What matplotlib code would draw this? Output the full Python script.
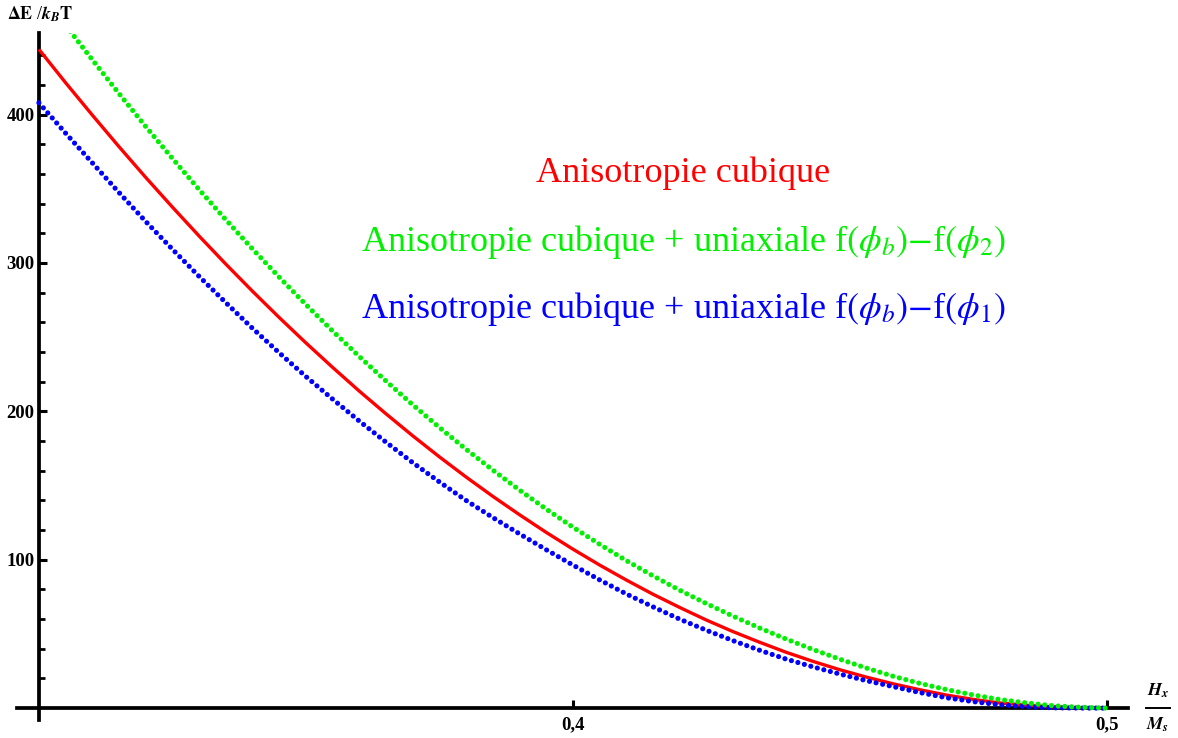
import matplotlib
matplotlib.use("Agg")
import matplotlib.pyplot as plt
from matplotlib.lines import Line2D

plt.rcParams['font.family'] = ['Liberation Serif', 'DejaVu Serif']
plt.rcParams['mathtext.fontset'] = 'stix'

# reduced field H_x / M_s
hx = [0.300, 0.305, 0.310, 0.315, 0.320, 0.325, 0.330, 0.335, 0.340, 0.345,
      0.350, 0.355, 0.360, 0.365, 0.370, 0.375, 0.380, 0.385, 0.390, 0.395,
      0.400, 0.405, 0.410, 0.415, 0.420, 0.425, 0.430, 0.435, 0.440, 0.445,
      0.450, 0.455, 0.460, 0.465, 0.470, 0.475, 0.480, 0.485, 0.490, 0.495,
      0.500]

# energy barrier dE / kB T
cubic = [444, 421.5, 399.7, 378.4, 357.7, 337.7, 318.2, 299.3, 281.0, 263.3,
         246.2, 229.7, 213.7, 198.4, 183.6, 169.4, 155.8, 142.8, 130.4, 118.5,
         107.2, 96.5, 86.4, 76.8, 67.9, 59.4, 51.6, 44.4, 37.6, 31.5,
         25.9, 20.9, 16.4, 12.4, 8.8, 5.9, 3.5, 1.9, 0.8, 0.3,
         0.0]
cubic_uni_phi2 = [484, 460.2, 437, 414.2, 392, 370.5, 349.5, 329.2, 309.5, 290.5,
                  272, 254.2, 237, 220.5, 204.5, 189.2, 174.5, 160.5, 147, 134.2,
                  122, 110.5, 99.5, 89.2, 79.5, 70.5, 62, 54, 46.5, 39.5,
                  33, 27, 21.5, 16.7, 12.5, 8.9, 5.8, 3.5, 1.6, 0.6,
                  0.0]
cubic_uni_phi1 = [408, 387.5, 367.5, 347.5, 328, 309.3, 291, 273.3, 256, 239.5,
                  223.5, 208.3, 193.5, 179.3, 165.5, 152.5, 140, 128.5, 117.5, 106.8,
                  96.5, 86.5, 77, 68.3, 60, 52.5, 45.5, 39, 33, 27.8,
                  23, 18.5, 14.5, 10.5, 7.0, 4.4, 2.2, 1.0, 0.2, 0.05,
                  0.0]

xtick_vals = [0.4, 0.5]
xtick_text = ["0,4", "0,5"]
ytick_vals = [100, 200, 300, 400]
ytick_minor = [20, 40, 60, 80, 120, 140, 160, 180, 220, 240, 260, 280,
               320, 340, 360, 380, 420, 440]

W, H = 1178, 738
fig = plt.figure(figsize=(W / 100, H / 100), dpi=100)
ax = fig.add_axes([17 / W, 1 - 720 / H, (1128 - 17) / W, (720 - 33) / H])

RED, GREEN, BLUE = '#ff0000', '#00f000', '#0000ff'
dots = (0, (0.01, 1.3))

ax.plot(hx, cubic, color=RED, lw=2.4, zorder=3, solid_capstyle='butt')
ax.plot(hx, cubic_uni_phi1, color=BLUE, lw=3.7, ls=dots, dash_capstyle='round', zorder=4)
ax.plot(hx, cubic_uni_phi2, color=GREEN, lw=3.7, ls=dots, dash_capstyle='round', zorder=5)

ax.set_xlim(0.2959, 0.504)
ax.set_ylim(-8, 455)

for side in ['top', 'right']:
    ax.spines[side].set_visible(False)
ax.spines['left'].set_position(('data', 0.3))
ax.spines['bottom'].set_position(('data', 0))
for side in ['left', 'bottom']:
    ax.spines[side].set_linewidth(2.7)
    ax.spines[side].set_zorder(2.5)

ax.set_xticks(xtick_vals)
ax.set_xticklabels(xtick_text)
ax.set_yticks(ytick_vals)
ax.set_yticks(ytick_minor, minor=True)
ax.tick_params(axis='x', which='major', direction='in', length=6, width=2.2, pad=6)
ax.tick_params(axis='y', which='major', direction='in', length=6, width=2.2, pad=3)
ax.tick_params(axis='y', which='minor', direction='in', length=4, width=2.0)
for lab in ax.get_xticklabels() + ax.get_yticklabels():
    lab.set_fontweight('bold')
    lab.set_fontsize(13.5)

# axis titles
fig.text(7 / W, 1 - 20 / H, r"$\mathbf{\Delta E}$ /$\mathbfit{k}_{\mathbfit{B}}$$\mathbf{T}$",
         fontsize=13, ha='left', va='baseline')
fig.text(1158 / W, 1 - 696 / H, r"$\mathbfit{H}_{\mathbfit{x}}$", fontsize=13,
         ha='center', va='baseline')
fig.text(1158 / W, 1 - 730 / H, r"$\mathbfit{M}_{\mathbfit{s}}$", fontsize=13,
         ha='center', va='baseline')
fig.add_artist(Line2D([1146 / W, 1170 / W], [1 - 708 / H, 1 - 708 / H],
                      transform=fig.transFigure, color='black', lw=1.4))

# curve captions
fig.text(683.5 / W, 1 - 182 / H, "Anisotropie cubique", color=RED,
         fontsize=26, ha='center', va='baseline')
fig.text(683.5 / W, 1 - 251 / H,
         r"Anisotropie cubique + uniaxiale f$(\phi_b)$$-$f$(\phi_2)$",
         color=GREEN, fontsize=26, ha='center', va='baseline')
fig.text(683.5 / W, 1 - 318 / H,
         r"Anisotropie cubique + uniaxiale f$(\phi_b)$$-$f$(\phi_1)$",
         color=BLUE, fontsize=26, ha='center', va='baseline')

fig.savefig("out.png", dpi=100)
